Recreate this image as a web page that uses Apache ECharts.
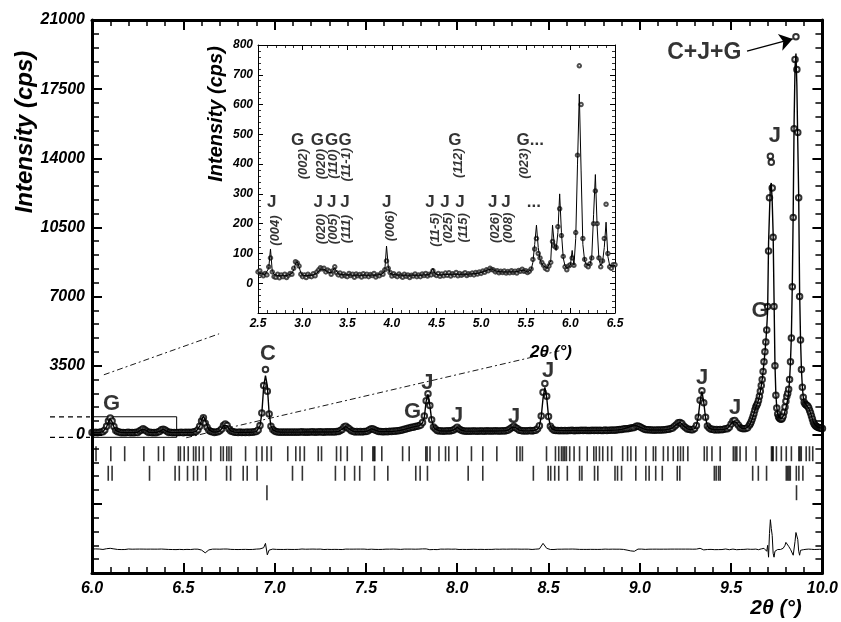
<!DOCTYPE html>
<html><head><meta charset="utf-8">
<script src="https://cdn.jsdelivr.net/npm/echarts/dist/echarts.min.js"></script>
<style>html,body{margin:0;padding:0;background:#fff}#c{width:841px;height:622px}</style>
</head><body><div id="c"></div>
<script>
const FONT = '"Liberation Sans", Arial, Helvetica, sans-serif';

// ---------- scan grids (2theta, degrees) ----------
const scanA = {start: 6.00, step: 0.01};
const scanB = {start: 9.600, step: 0.005};
const scanInset = {start: 2.50, step: 0.02};

// ---------- main pattern: observed (cps), 6.00-9.59 step 0.01 ----------
const obsA = [
 120, 95,130,105,125,140,150,240,430,700,
 850,700,420,220,150,140,105,120,100,115,
 125,100,115, 95,125,120,185,240,310,245,
 180,120,125,100,120,105,135,160,250,275,
 240,175,120,125,100,115, 95,120,110,125,
 105,130,115,125,110,130,150,165,250,430,
 700,860,580,380,230,170,150,120,145,150,
 200,290,470,540,470,290,190,160,125,130,
 110,135,115,130,120,140,115,135,125,150,
 170,240,470,1100,2500,3300,2200,1050,430,260,
 190,150,140,130,145,125,140,130,145,125,
 140,125,145,130,140,150,125,140,130,145,
 135,150,130,145,135,150,140,130,150,140,
 150,135,155,140,165,160,215,270,390,430,
 360,290,200,175,145,160,140,160,145,165,
 170,185,255,310,285,235,200,160,165,150,
 150,170,155,175,165,190,175,200,205,225,
 245,280,285,330,340,380,385,420,425,460,
 500,620,950,1720,2080,1480,760,390,300,215,
 190,205,180,195,185,200,185,210,235,310,
 380,290,245,200,195,180,195,180,190,185,
 195,180,190,185,195,180,200,185,195,185,
 185,200,190,195,185,205,195,215,235,310,
 370,430,360,300,225,215,195,205,190,205,
 210,195,215,230,300,450,950,2150,2600,1950,
 930,430,300,230,215,220,205,215,200,220,
 205,220,210,225,205,220,215,210,225,210,
 225,210,220,215,230,215,225,215,230,220,
 215,235,220,230,225,240,230,245,250,265,
 270,290,300,310,320,340,350,370,430,440,
 400,350,310,265,250,250,235,245,230,245,
 235,245,240,255,250,275,280,320,345,430,
 510,610,620,570,440,370,290,280,250,255,
 320,470,880,1750,2230,1620,880,440,340,280,
 280,240,270,240,265,250,280,300,310,380,
 540,690,720,600,480,360,320,300,320,360
];
// calculated (cps), same grid
const calcA = [
 110,110,110,110,112,131,158,227,400,648,
 800,648,400,227,158,131,118,113,111,110,
 110,110,110,112,116,129,173,252,300,252,
 173,129,116,112,112,115,127,166,237,280,
 237,166,127,115,111,110,110,112,115,118,
 120,120,120,120,121,122,142,171,244,440,
 740,950,760,460,260,175,142,130,136,152,
 195,302,456,551,456,302,194,151,134,125,
 122,122,123,123,124,125,126,128,132,140,
 160,250,450,1080,2420,3000,2480,1090,450,250,
 185,155,142,137,135,134,133,133,132,132,
 133,133,134,134,135,135,136,136,137,137,
 138,138,139,139,140,140,141,141,142,142,
 143,143,144,144,152,167,205,282,375,420,
 375,282,205,167,153,150,150,150,152,155,
 165,190,250,305,290,240,190,168,158,155,
 160,162,165,168,172,178,185,195,210,230,
 250,270,295,320,345,370,395,415,430,450,
 510,600,900,1700,2050,1500,750,400,280,230,
 205,195,190,188,188,188,192,205,240,300,
 370,300,240,205,192,188,186,186,186,186,
 186,187,187,188,188,189,189,190,190,191,
 191,192,192,193,194,196,200,210,240,300,
 385,420,370,290,235,210,200,197,197,198,
 200,203,208,222,290,430,900,1850,2400,1900,
 920,440,290,240,222,215,212,210,210,210,
 211,211,212,212,213,213,214,214,215,215,
 216,216,217,218,218,219,220,221,222,223,
 224,225,226,228,230,232,235,240,248,260,
 275,295,320,350,385,420,450,470,460,430,
 390,340,300,270,255,245,240,238,237,237,
 238,240,243,248,256,268,285,310,350,420,
 520,600,630,560,450,360,300,270,255,250,
 310,460,900,1700,2200,1650,850,450,330,285,
 265,258,255,255,257,262,270,285,320,400,
 550,680,710,620,470,370,315,305,315,350
];
// 9.600-10.000 step 0.005
const obsB = [
 480,560,660,780,920,1080,1250,1400,1500,1600,1750,1950,2200,2500,2800,3200,3700,4200,4700,5300,
 6500,9300,12000,14100,13800,12500,10000,6500,3500,2000,1350,1050,900,830,800,790,830,950,1150,1400,
 1700,1950,2100,2300,2800,3700,4900,7500,11000,15500,19000,20150,18500,15300,12000,7000,4800,3300,2400,1900,
 1650,1560,1520,1480,1440,1350,1230,1100,950,800,650,550,480,430,400,380,360,350,340,330,
 320
];
const calcB = [
 470,560,670,790,920,1070,1240,1390,1510,1620,1770,1960,2200,2480,2800,3200,3650,4150,4700,5400,
 6300,9700,11200,12600,12750,11800,10200,6900,3600,2050,1380,1060,910,840,810,800,820,900,1020,1200,
 1350,1550,1800,2150,2750,3700,5000,7600,11300,15900,18600,19300,17700,14800,12100,7300,4850,3300,2420,1920,
 1670,1570,1520,1470,1420,1340,1230,1100,950,800,660,560,490,440,405,380,362,350,340,332,
 325
];
const diffOffset = -5800;

// ---------- reflection positions (2theta) ----------
const reflPhase1 = [6.022,6.103,6.179,6.284,6.364,6.393,6.473,6.484,6.505,6.527,6.556,6.569,6.587,6.610,6.651,6.705,6.719,6.738,6.750,6.763,6.841,6.901,6.931,6.958,6.982,7.072,7.116,7.139,7.163,7.239,7.257,7.339,7.362,7.398,7.478,7.538,7.544,7.549,7.587,7.701,7.737,7.828,7.835,7.851,7.900,7.936,7.954,8.000,8.078,8.140,8.217,8.326,8.344,8.357,8.489,8.538,8.556,8.571,8.580,8.589,8.598,8.616,8.640,8.670,8.712,8.748,8.761,8.779,8.797,8.824,8.846,8.906,8.933,8.951,8.978,9.033,9.074,9.087,9.129,9.154,9.183,9.208,9.223,9.238,9.263,9.353,9.368,9.395,9.440,9.512,9.522,9.531,9.549,9.582,9.636,9.721,9.726,9.730,9.748,9.775,9.802,9.830,9.871,9.877,9.884,9.911,9.929,9.947];
const reflPhase2 = [6.089,6.110,6.315,6.455,6.478,6.523,6.556,6.578,6.623,6.737,6.759,6.828,6.850,6.904,7.098,7.152,7.333,7.384,7.438,7.466,7.547,7.620,7.773,7.797,7.837,8.060,8.140,8.417,8.498,8.512,8.534,8.556,8.603,8.670,8.683,8.752,8.770,8.864,8.878,8.900,8.978,9.033,9.051,9.087,9.123,9.205,9.219,9.408,9.418,9.431,9.440,9.618,9.649,9.694,9.802,9.810,9.817,9.824,9.857,9.871,9.893];
const reflPhase3 = [6.958, 9.858];
const reflRowLevel = [-960, -1950, -2935];

// ---------- inset: 2.50-6.50 step 0.02 ----------
const insetObs = [
 38,42,30,25,33,28,55,85,38,22,
 20,30,18,28,22,30,19,27,33,30,
 50,72,68,58,30,22,28,19,30,24,
 22,32,25,38,45,52,48,50,38,44,
 40,30,42,55,35,28,34,24,31,25,
 22,33,26,30,20,31,25,29,21,32,
 24,30,22,29,26,33,21,28,25,34,
 30,45,75,50,36,24,32,26,22,31,
 25,20,30,23,28,19,27,24,31,22,
 28,22,31,26,33,24,30,28,42,30,
 26,33,23,31,25,34,27,35,24,32,
 28,36,25,33,27,31,35,26,32,29,
 34,28,36,31,38,33,41,37,45,42,
 50,46,44,38,42,35,40,36,41,34,
 39,35,42,36,40,34,43,40,47,40,
 42,36,40,48,80,115,150,100,85,70,
 60,50,46,58,70,140,125,120,190,250,
 160,90,55,45,58,62,85,60,170,430,
 730,600,150,80,60,55,65,85,200,310,
 200,85,55,75,150,265,100,55,50,62,
 62
];
const insetCalc = [
 35,33,32,31,30,32,50,115,40,30,
 27,26,26,25,25,25,26,27,29,33,
 45,65,72,55,35,27,25,25,25,26,
 27,28,30,34,40,47,50,47,42,38,
 36,35,38,52,40,32,30,29,28,28,
 28,28,27,27,27,27,27,27,27,27,
 27,27,27,27,27,27,27,28,28,29,
 32,40,125,55,33,30,29,28,28,27,
 27,27,27,27,27,27,27,27,27,27,
 27,27,27,28,28,28,29,31,50,33,
 29,28,28,28,28,29,29,30,30,30,
 30,30,30,30,30,30,30,30,30,31,
 31,32,32,33,34,36,38,40,43,45,
 47,48,46,42,40,39,38,38,38,38,
 38,38,38,38,38,39,40,42,45,44,
 40,38,38,45,70,130,195,120,80,65,
 58,52,50,55,75,195,130,110,170,300,
 170,85,58,50,52,60,110,60,150,400,
 635,380,130,75,62,58,62,90,230,365,
 190,80,60,70,120,205,90,60,55,58,
 60
];

// ---------- annotations ----------
const mainLabels = [
 ['G',6.107,1553],['C',6.964,4083],['G',7.755,1180],['J',7.837,2646],['J',8.0,960],
 ['J',8.311,910],['J',8.498,3240],['J',9.341,2900],['J',9.522,1380],['G',9.658,6274],['J',9.739,15130]
];
const combLabel = ['C+J+G', 9.353, 19330];
const combArrow = [[9.587,19430],[9.837,20040]];
const insetLetters = [
 ['J',2.654,273],['G',2.945,481],['G',3.164,481],['G',3.326,481],['G',3.475,481],
 ['J',3.176,273],['J',3.326,273],['J',3.475,273],['J',3.942,273],
 ['J',4.427,273],['J',4.595,273],['J',4.763,273],['G',4.707,481],
 ['J',5.13,273],['J',5.279,273],['G...',5.55,481],['...',5.59,273]
];
const insetHkl = [
 ['(004)',2.69,177],['(002)',3.008,400],['(020)',3.214,400],['(110)',3.344,400],['(11-1)',3.494,398],
 ['(020)',3.214,182],['(005)',3.344,182],['(111)',3.494,182],['(006)',3.979,192],
 ['(11-5)',4.483,179],['(025)',4.632,186],['(115)',4.80,186],['(112)',4.744,403],
 ['(026)',5.155,186],['(008)',5.305,186],['(023)',5.49,402]
];
const zoomBox = [[6.0,910],[6.4636,910],[6.4636,-130],[6.0,-130]];
const connUpper = [[6.065,3036],[6.696,5111]];
const connLower = [[6.516,-152],[8.560,4250]];

// ---------- build ----------
const mk = (scan, n) => Array.from({length:n}, (_, i) => +(scan.start + i*scan.step).toFixed(3));
const tthMain = mk(scanA, obsA.length).concat(mk(scanB, obsB.length));
const obsMain = obsA.concat(obsB), calcMain = calcA.concat(calcB);
const tthInset = mk(scanInset, insetObs.length);

const chart = echarts.init(document.getElementById('c'), null, {renderer:'canvas'});

function axisX(gi, pos, big, showLabel, min, max, interval){
  return {type:'value', gridIndex:gi, position:pos, min, max, interval, z:5,
    axisLine:{show:true, onZero:false, lineStyle:{color:'#000', width: big?3:1}},
    axisTick:{show:true, inside:true, length: big?10:5, lineStyle:{color:'#000', width: big?2:1}},
    minorTick:{show:true, splitNumber:5, length: big?6:3, lineStyle:{color:'#000', width: big?1.5:0.8}},
    splitLine:{show:false},
    axisLabel:{show:showLabel, color:'#000', fontFamily:FONT, fontWeight:'bold', fontStyle:'italic',
      fontSize: big?16:12, margin: big?8:5, showMinLabel:true, showMaxLabel:true,
      formatter: v => v.toFixed(1)}};
}
function axisY(gi, pos, big, showLabel, min, max, interval){
  return {type:'value', gridIndex:gi, position:pos, min, max, interval, z:5,
    axisLine:{show:true, onZero:false, lineStyle:{color:'#000', width: big?3:1}},
    axisTick:{show:true, inside:true, length: big?10:5, lineStyle:{color:'#000', width: big?2:1}},
    minorTick:{show:true, splitNumber:5, length: big?7:3, lineStyle:{color:'#000', width: big?1.5:0.8}},
    splitLine:{show:false},
    axisLabel:{show:showLabel, color:'#000', fontFamily:FONT, fontWeight:'bold', fontStyle:'italic',
      fontSize: big?16:12, margin: big?7:5, showMinLabel:true, showMaxLabel:true,
      formatter: v => v < 0 ? '' : String(v)}};
}

const txt = (size, extra) => Object.assign({show:true, position:'inside', color:'#000', fontFamily:FONT,
  fontWeight:'bold', fontSize:size, formatter:'{b}'}, extra||{});
const annSeries = (data, xi, yi, label, extra) => Object.assign({type:'scatter', xAxisIndex:xi, yAxisIndex:yi,
  symbolSize:1, itemStyle:{color:'transparent'}, z:10, silent:true,
  data: data.map(([t,x,y]) => ({name:t, value:[x,y]})), label}, extra||{});

const series = [
  // main box + connectors
  {type:'line', xAxisIndex:0, yAxisIndex:0, data:zoomBox, showSymbol:false, silent:true,
   lineStyle:{color:'#000', width:1}},
  {type:'line', xAxisIndex:0, yAxisIndex:0, data:connUpper, showSymbol:false, silent:true,
   lineStyle:{color:'#000', width:0.9, type:[6,3,2,3]}},
  {type:'line', xAxisIndex:0, yAxisIndex:0, data:connLower, showSymbol:false, silent:true,
   lineStyle:{color:'#000', width:0.9, type:[6,3,2,3]}},
  // observed
  {type:'scatter', xAxisIndex:0, yAxisIndex:0, symbol:'emptyCircle', symbolSize:5.5, silent:true,
   itemStyle:{color:'#000', borderWidth:1.2}, data: tthMain.map((x,i)=>[x, obsMain[i]]), z:3},
  // calculated
  {type:'line', xAxisIndex:0, yAxisIndex:0, showSymbol:false, silent:true,
   lineStyle:{color:'#000', width:1.4}, data: tthMain.map((x,i)=>[x, calcMain[i]]), z:4},
  // difference
  {type:'line', xAxisIndex:0, yAxisIndex:0, showSymbol:false, silent:true,
   lineStyle:{color:'#000', width:1}, data: tthMain.map((x,i)=>[x, obsMain[i]-calcMain[i]+diffOffset])},
  // reflection ticks
  ...[reflPhase1, reflPhase2, reflPhase3].map((arr, r) => ({type:'scatter', xAxisIndex:0, yAxisIndex:0,
   symbol:'rect', symbolSize:[1.6,15], silent:true, itemStyle:{color:'#000'},
   data: arr.map(x => [x, reflRowLevel[r]])})),
  // main labels
  annSeries(mainLabels, 0, 0, txt(22)),
  annSeries([combLabel], 0, 0, txt(23), {
    markLine:{silent:true, symbol:['none','arrow'], symbolSize:13, label:{show:false},
      lineStyle:{color:'#000', width:1.3, type:'solid'},
      data:[[{coord:combArrow[0]},{coord:combArrow[1]}]]}}),
  // inset
  {type:'scatter', xAxisIndex:2, yAxisIndex:2, symbol:'emptyCircle', symbolSize:3.5, silent:true,
   itemStyle:{color:'#222', borderWidth:0.8}, data: tthInset.map((x,i)=>[x, insetObs[i]]), z:5},
  {type:'line', xAxisIndex:2, yAxisIndex:2, showSymbol:false, silent:true,
   lineStyle:{color:'#000', width:1}, data: tthInset.map((x,i)=>[x, insetCalc[i]]), z:6},
  annSeries(insetLetters, 2, 2, txt(17)),
  annSeries(insetHkl, 2, 2, txt(13, {fontStyle:'italic', rotate:90}))
];

chart.setOption({
  animation:false,
  backgroundColor:'#fff',
  grid:[
    {left:92, top:20, width:736, height:553, show:false},
    {left:258, top:45, width:357, height:268, show:true, backgroundColor:'#fff', borderWidth:0, z:0}
  ],
  xAxis:[
    axisX(0,'bottom',true,true,6,10,0.5),
    axisX(0,'top',true,false,6,10,0.5),
    axisX(1,'bottom',false,true,2.5,6.5,0.5),
    axisX(1,'top',false,false,2.5,6.5,0.5)
  ],
  yAxis:[
    axisY(0,'left',true,true,-7000,21000,3500),
    axisY(0,'right',true,false,-7000,21000,3500),
    axisY(1,'left',false,true,-100,800,100),
    axisY(1,'right',false,false,-100,800,100)
  ],
  series
});

const yTop = chart.convertToPixel({yAxisIndex:0}, zoomBox[0][1]);
const yBot = chart.convertToPixel({yAxisIndex:0}, zoomBox[2][1]);
const tstyle = (text, font) => ({text, font, fill:'#000', align:'center', verticalAlign:'middle',
  textAlign:'center', textVerticalAlign:'middle'});
chart.setOption({graphic:[
  {type:'line', shape:{x1:50, y1:yTop, x2:90, y2:yTop}, style:{stroke:'#000', lineWidth:1.3, lineDash:[5,4]}, silent:true},
  {type:'line', shape:{x1:50, y1:yBot, x2:90, y2:yBot}, style:{stroke:'#000', lineWidth:1.3, lineDash:[5,4]}, silent:true},
  {type:'text', x:25, y:132, rotation:Math.PI/2, style:tstyle('Intensity (cps)', 'italic bold 24px ' + FONT), silent:true},
  {type:'text', x:216, y:114, rotation:Math.PI/2, style:tstyle('Intensity (cps)', 'italic bold 20px ' + FONT), silent:true, z:20},
  {type:'text', x:776, y:608, style:tstyle('2θ (°)', 'italic bold 21px ' + FONT), silent:true},
  {type:'text', x:551, y:352, style:tstyle('2θ (°)', 'italic bold 17px ' + FONT), silent:true, z:20}
]});
</script></body></html>
